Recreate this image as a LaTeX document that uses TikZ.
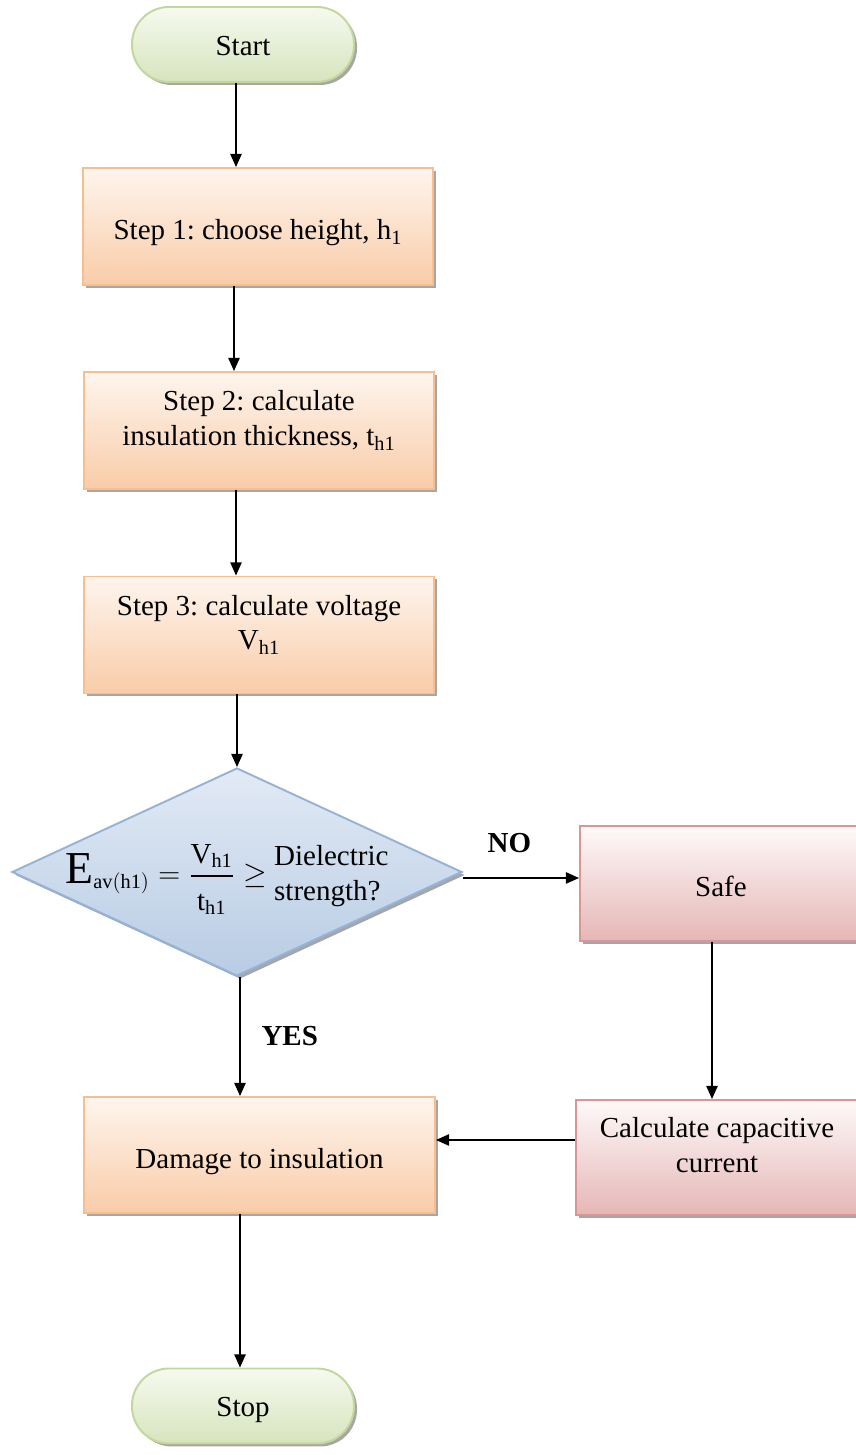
\documentclass[tikz,border=0pt]{standalone}
\usepackage{amsmath}
\usepackage{fontspec}
\setmainfont{Liberation Serif}
\usepackage{xcolor}
\usetikzlibrary{arrows.meta,shapes.geometric,shadows,positioning}
\frenchspacing

\definecolor{termline}{RGB}{195,214,155}
\definecolor{termtop}{RGB}{246,250,239}
\definecolor{termbot}{RGB}{214,228,189}
\definecolor{stepline}{RGB}{248,190,142}
\definecolor{steptop}{RGB}{254,245,238}
\definecolor{stepbot}{RGB}{249,204,168}
\definecolor{decline}{RGB}{149,179,215}
\definecolor{dectop}{RGB}{226,234,245}
\definecolor{decbot}{RGB}{184,204,228}
\definecolor{safeline}{RGB}{217,150,148}
\definecolor{safetop}{RGB}{254,249,249}
\definecolor{safebot}{RGB}{229,183,182}

\begin{document}
\begin{tikzpicture}[font=\fontsize{16.5}{19.8}\selectfont,
  shad/.style={drop shadow={shadow xshift=0.06cm,shadow yshift=-0.06cm,fill=black!35,opacity=1}},
  term/.style={shad,draw=termline,line width=1.1pt,top color=termtop,bottom color=termbot,rounded corners=0.74cm,minimum width=4.44cm,minimum height=1.5cm,text height=0.55cm,text depth=0.12cm},
  stepbox/.style={shad,draw=stepline,line width=1.1pt,top color=steptop,bottom color=stepbot,minimum width=7cm,minimum height=2.34cm,align=center},
  safebox/.style={shad,draw=safeline,line width=1.1pt,top color=safetop,bottom color=safebot,minimum width=5.64cm,minimum height=2.3cm,align=center},
  decision/.style={shad,diamond,draw=decline,line width=1.1pt,top color=dectop,bottom color=decbot,minimum width=9cm,minimum height=4.16cm,inner sep=0pt},
  oneline/.style={text height=0.65cm,text depth=0.12cm},
  twoline/.style={text height=1.2cm,text depth=0.6cm},
  arr/.style={-{Triangle[length=7.5pt,width=6.5pt]},line width=0.8pt}]
  \useasboundingbox (0,0) rectangle (17.12,29.1);

  % main column
  \node[term] (St) at (4.86,28.21) {Start};
  \node[stepbox,oneline] (S1) at (5.16,24.57) {Step 1: choose height, h\textsubscript{1}};
  \node[stepbox,twoline] (S2) at (5.18,20.49) {Step 2: calculate\\insulation thickness, t\textsubscript{h1}};
  \node[stepbox,twoline] (S3) at (5.18,16.40) {Step 3: calculate voltage\\V\textsubscript{h1}};
  \node[decision] (D) at (4.74,11.66) {};
  \node (Dt) at (4.54,11.54) {$\text{\fontsize{26}{28}\selectfont E}_{\mathrm{av(h1)}} = \dfrac{\mathrm{V}_{\mathrm{h1}}}{\rule{0pt}{0.6cm}\mathrm{t}_{\mathrm{h1}}} \geq$\ \begin{tabular}{@{}l@{}}Dielectric\\strength?\end{tabular}};
  \node[stepbox,oneline,minimum width=7.02cm,minimum height=2.32cm] (Dm) at (5.19,6.00) {Damage to insulation};
  \node[term] (Sp) at (4.86,0.98) {Stop};

  % right branch
  \node[safebox,oneline] (Sf) at (14.42,11.43) {Safe};
  \node[safebox,twoline] (C) at (14.34,5.95) {Calculate capacitive\\current};

  \draw[arr] (St.south -| 4.72,0) -- (S1.north -| 4.72,0);
  \draw[arr] (S1.south -| 4.68,0) -- (S2.north -| 4.68,0);
  \draw[arr] (S2.south -| 4.72,0) -- (S3.north -| 4.72,0);
  \draw[arr] (S3.south -| D.north) -- (D.north);
  \draw[arr] (D.south -| 4.8,0) -- (Dm.north -| 4.8,0) node[midway,right=0.3cm,font=\fontsize{16.5}{19.8}\selectfont\bfseries] (yes) {YES};
  \draw[arr] (Dm.south -| 4.8,0) -- (Sp.north -| 4.8,0);
  \draw[arr] ([yshift=-0.12cm]D.east) -- ([yshift=-0.12cm]D.east -| Sf.west) node[pos=0.4,above=0.38cm,font=\fontsize{16.5}{19.8}\selectfont\bfseries] (no) {NO};
  \draw[arr] (Sf.south -| 14.24,0) -- (C.north -| 14.24,0);
  \draw[arr] (C.west |- 0,6.3) -- (Dm.east |- 0,6.3);
\end{tikzpicture}
\end{document}
